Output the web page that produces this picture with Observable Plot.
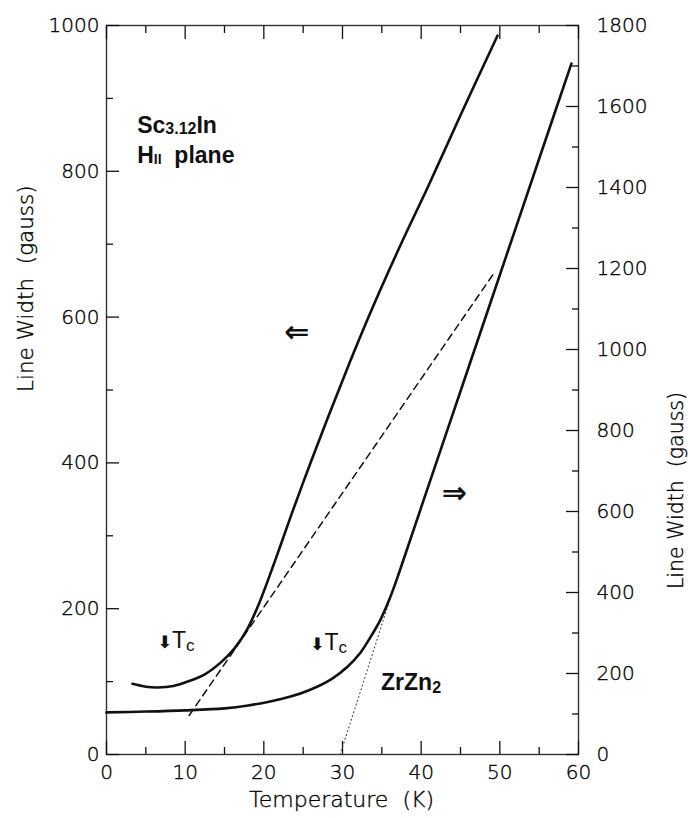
<!DOCTYPE html>
<html><head><meta charset="utf-8">
<script src="https://cdn.jsdelivr.net/npm/d3@7"></script>
<script src="https://cdn.jsdelivr.net/npm/@observablehq/plot@0.6"></script>
<style>body{margin:0;background:#fff} svg text{white-space:pre}</style>
</head><body><div id="chart"></div>
<script>
// Sc3.12In line width (left axis, gauss)
const scTemp  = [3.3, 5, 6.5, 8.5, 10.3, 12.5, 14.5, 16.3, 17.9, 19.5, 21.5, 23.4, 26, 28.5, 31, 33.5, 37, 41, 45, 49.7];
const scWidth = [97, 93, 92, 94, 100, 110, 126, 146, 172, 210, 268, 326, 402, 472, 540, 605, 690, 782, 877, 986];
// ZrZn2 line width (right axis, gauss)
const zrTemp  = [0, 5, 10, 15, 18, 20.8, 23.4, 25.9, 28.5, 30.6, 32.3, 33.5, 34.8, 35.9, 37, 38, 40, 45, 50, 55, 59.1];
const zrWidth = [104, 106, 109, 114, 121, 131, 143, 160, 185, 216, 252, 288, 332, 380, 438, 495, 610, 897, 1184, 1471, 1706];
// dashed tangent (left axis) and dotted tangent (right axis)
const dashTemp = [10.5, 49.3];
const dashWidth = [53.5, 661];
const dotTemp = [29.7, 35.9];
const dotWidth = [0, 375];
// ticks
const xMajor = [0, 10, 20, 30, 40, 50, 60];
const xMinor = [5, 15, 25, 35, 45, 55];
const leftMajor = [0, 200, 400, 600, 800, 1000];
const leftMinor = [100, 300, 500, 700, 900];
const rightMajor = [0, 200, 400, 600, 800, 1000, 1200, 1400, 1600, 1800];
const rightMinor = [100, 300, 500, 700, 900, 1100, 1300, 1500, 1700];
const RIGHT_MAX = 1800, LEFT_MAX = 1000;
const toLeft = v => v * LEFT_MAX / RIGHT_MAX;

const sc = scTemp.map((t, i) => ({t, w: scWidth[i]}));
const zr = zrTemp.map((t, i) => ({t, w: toLeft(zrWidth[i])}));
const dash = dashTemp.map((t, i) => ({t, w: dashWidth[i]}));
const dot = dotTemp.map((t, i) => ({t, w: toLeft(dotWidth[i])}));

// annotations (left-axis units)
const boldText = ["Sc3.12In", "H|| plane", "ZrZn2"];
const boldT    = [3.9, 3.9, 34.9];
const boldW    = [852, 812, 88];
const bolds = boldText.map((s, i) => ({s, t: boldT[i], w: boldW[i]}));
const tcText = ["⬇Tc", "⬇Tc"];
const tcT    = [6.5, 25.9];
const tcW    = [146, 143];
const tcs = tcText.map((s, i) => ({s, t: tcT[i], w: tcW[i]}));
const arrowText = ["⇐", "⇒"];
const arrowT = [24.2, 44.2];
const arrowW = [579, 358];
const arrows = arrowText.map((s, i) => ({s, t: arrowT[i], w: arrowW[i]}));

const tickFont = "'DejaVu Sans', sans-serif";
const ink = "#111";
const num = d => String(d);
const tickText = {fontWeight: 200, fill: "#000", letterSpacing: "0.5px", textStroke: "#000", textStrokeWidth: 0.35};
const titleText = {fontWeight: 200, fill: "#000", stroke: "#000", strokeWidth: 0.35};

const chart = Plot.plot({
  width: 688, height: 818,
  marginLeft: 106, marginRight: 110, marginTop: 25, marginBottom: 64,
  x: {domain: [0, 60]},
  y: {domain: [0, 1000]},
  style: {fontFamily: tickFont, fontSize: "20px", color: ink, background: "#fff"},
  marks: [
    Plot.frame({stroke: "#333", strokeWidth: 1.4}),
    // bottom axis
    Plot.axisX(xMajor, {anchor: "bottom", tickSize: 0, tickPadding: 10, ...tickText, tickFormat: num, label: null}),
    Plot.axisX(xMajor, {anchor: "bottom", tickSize: 13, dy: -13, strokeWidth: 1.3, fill: "none", label: null}),
    Plot.axisX(xMinor, {anchor: "bottom", tickSize: 7, dy: -7, strokeWidth: 1.3, fill: "none", label: null}),
    // top axis ticks
    Plot.axisX(xMajor, {anchor: "top", tickSize: 13, dy: 13, strokeWidth: 1.3, fill: "none", label: null}),
    Plot.axisX(xMinor, {anchor: "top", tickSize: 7, dy: 7, strokeWidth: 1.3, fill: "none", label: null}),
    // left axis
    Plot.axisY(leftMajor, {anchor: "left", tickSize: 0, tickPadding: 7, ...tickText, tickFormat: num, label: null}),
    Plot.axisY(leftMajor, {anchor: "left", tickSize: 13, dx: 13, strokeWidth: 1.3, fill: "none", label: null}),
    Plot.axisY(leftMinor, {anchor: "left", tickSize: 7, dx: 7, strokeWidth: 1.3, fill: "none", label: null}),
    // right axis (values converted to left units)
    Plot.axisY(rightMajor.map(toLeft), {anchor: "right", tickSize: 0, tickPadding: 18, ...tickText, textAnchor: "start",
      tickFormat: d => String(Math.round(d * RIGHT_MAX / LEFT_MAX)), label: null}),
    Plot.axisY(rightMajor.map(toLeft), {anchor: "right", tickSize: 13, dx: -13, strokeWidth: 1.3, fill: "none", label: null}),
    Plot.axisY(rightMinor.map(toLeft), {anchor: "right", tickSize: 7, dx: -7, strokeWidth: 1.3, fill: "none", label: null}),
    // axis titles
    Plot.text(["Line Width  (gauss)"], {frameAnchor: "left", dx: -80, dy: 2, rotate: -90, fontSize: 21.5, ...titleText}),
    Plot.text(["Line Width  (gauss)"], {frameAnchor: "right", dx: 98, dy: 2, rotate: -90, fontSize: 20.5, ...titleText}),
    Plot.text(["Temperature  (K)"], {frameAnchor: "bottom", dy: 52, dx: -1, fontSize: 22, ...titleText}),
    // curves
    Plot.line(dash, {x: "t", y: "w", stroke: ink, strokeWidth: 1.5, strokeDasharray: "7,5"}),
    Plot.line(dot, {x: "t", y: "w", stroke: "#444", strokeWidth: 1.1, strokeDasharray: "1,3"}),
    Plot.line(sc, {x: "t", y: "w", stroke: ink, strokeWidth: 2.6, curve: "catmull-rom"}),
    Plot.line(zr, {x: "t", y: "w", stroke: ink, strokeWidth: 2.6, curve: "catmull-rom"}),
    // annotations
    Plot.text(bolds, {x: "t", y: "w", text: "s", textAnchor: "start", lineAnchor: "bottom", fontSize: 23, fontWeight: "bold",
      fontFamily: "'Liberation Sans', Arial, sans-serif", fill: ink, className: "annot"}),
    Plot.text(tcs, {x: "t", y: "w", text: "s", textAnchor: "start", lineAnchor: "bottom", fontSize: 23,
      fontFamily: "'Liberation Sans', Arial, sans-serif", fill: ink, className: "annot"}),
    Plot.text(arrows, {x: "t", y: "w", text: "s", fontSize: 30, fontWeight: "bold", fill: ink})
  ]
});

// rich text for subscripts
const rich = {
  "Sc3.12In": 'Sc<tspan font-size="16" dy="1">3.12</tspan><tspan dy="-1">In</tspan>',
  "H|| plane": 'H<tspan font-size="14" dy="1">II</tspan><tspan dy="-1">  plane</tspan>',
  "⬇Tc": '<tspan font-size="17" font-family="DejaVu Sans" font-weight="bold">⬇</tspan>T<tspan font-size="17" dy="3">c</tspan>',
  "ZrZn2": 'ZrZn<tspan font-size="16" dy="3">2</tspan>'
};
chart.querySelectorAll(".annot text").forEach(el => {
  const s = el.textContent;
  if (rich[s]) el.innerHTML = rich[s];
});
document.getElementById("chart").appendChild(chart);
</script>
</body></html>
